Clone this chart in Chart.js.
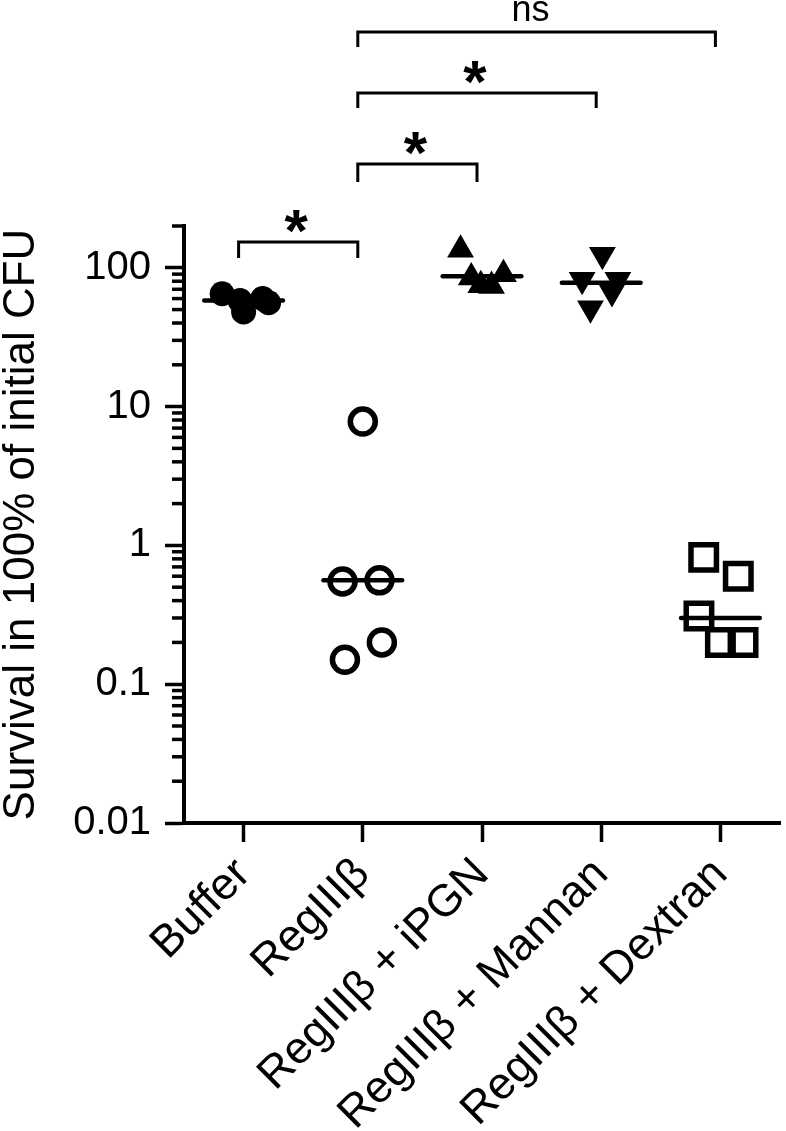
<!DOCTYPE html>
<html><head><meta charset="utf-8">
<script src="https://cdn.jsdelivr.net/npm/chart.js@4.4.0/dist/chart.umd.min.js"></script>
<style>html,body{margin:0;padding:0;background:#fff;overflow:hidden;}canvas{display:block;}</style>
</head><body><canvas id="c" width="786" height="1131" style="width:786px;height:1131px"></canvas>
<script>
// ---- data ----
const categories = ['Buffer', 'RegIIIβ', 'RegIIIβ + iPGN', 'RegIIIβ + Mannan', 'RegIIIβ + Dextran'];
const bufferValues  = [65, 58, 48, 60, 56];
const regValues     = [7.8, 0.55, 0.56, 0.15, 0.2];
const ipgnValues    = [135, 85, 90, 75, 74];
const mannanValues  = [124, 82, 82, 67, 51];
const dextranValues = [0.82, 0.6, 0.31, 0.2, 0.2];
const medianValues  = [58, 0.56, 87, 78, 0.30];
const yTickLabels   = [0.01, 0.1, 1, 10, 100];
const comparisons   = [[0, 1, '*'], [1, 2, '*'], [1, 3, '*'], [1, 4, 'ns']];
const yTitle = 'Survival in 100% of initial CFU';

// ---- presentation ----
const jitter = [
  [-0.18, -0.03, 0.00, 0.16, 0.21],
  [0.00, -0.17, 0.14, -0.15, 0.16],
  [-0.18, -0.09, 0.18, -0.01, 0.08],
  [0.01, -0.16, 0.14, 0.09, -0.09],
  [-0.14, 0.15, -0.18, 0.00, 0.19]
];
const bracketY = [242, 164, 93, 32];
const bracketDrop = [16, 18, 15, 15];
const FONT = "'Liberation Sans', Arial, Helvetica, sans-serif";
Chart.defaults.font.family = FONT;
Chart.defaults.color = '#000';

const groupValues = [bufferValues, regValues, ipgnValues, mannanValues, dextranValues];
const styles = [
  {pointStyle: 'circle', radius: 12.5, fill: true, bw: 0, rot: 0},
  {pointStyle: 'circle', radius: 12.5, fill: false, bw: 5.5, rot: 0},
  {pointStyle: 'triangle', radius: 15.5, fill: true, bw: 0, rot: 0},
  {pointStyle: 'triangle', radius: 15.5, fill: true, bw: 0, rot: 180},
  {pointStyle: 'rect', radius: 18, fill: false, bw: 5.5, rot: 0}
];

const isMajor = v => Math.abs(Math.log10(v) - Math.round(Math.log10(v))) < 1e-9;

const datasets = [];
medianValues.forEach((m, i) => {
  datasets.push({
    type: 'line', showLine: true, data: [{x: i - 0.33, y: m}, {x: i + 0.33, y: m}],
    borderColor: '#000', borderWidth: 4.5, borderCapStyle: 'round', pointRadius: 0, fill: false
  });
});
groupValues.forEach((vals, g) => {
  const s = styles[g];
  datasets.push({
    type: 'scatter',
    data: vals.map((v, k) => ({x: g + jitter[g][k], y: v})),
    pointStyle: s.pointStyle, pointRadius: s.radius, pointRotation: s.rot,
    pointBackgroundColor: s.fill ? '#000' : 'rgba(0,0,0,0)',
    pointBorderColor: '#000', pointBorderWidth: s.bw,
    pointHoverRadius: s.radius
  });
});

const yTickValues = [];
for (let e = -2; e <= 2; e++) {
  for (let k = 1; k <= 9; k++) {
    const v = Number((k * Math.pow(10, e)).toPrecision(3));
    if (v <= 200) yTickValues.push(v);
  }
}

const annot = {
  id: 'annot',
  afterDraw(chart) {
    const ctx = chart.ctx, xs = chart.scales.x, ys = chart.scales.y;
    ctx.save();
    ctx.strokeStyle = '#000'; ctx.fillStyle = '#000'; ctx.lineWidth = 3.5; ctx.lineCap = 'butt';
    ys.ticks.forEach(t => {
      if (!isMajor(t.value)) {
        const py = ys.getPixelForValue(t.value);
        ctx.beginPath(); ctx.moveTo(ys.right - 12, py); ctx.lineTo(ys.right, py); ctx.stroke();
      }
    });
    ctx.lineWidth = 3;
    comparisons.forEach((c, i) => {
      const x1 = xs.getPixelForValue(c[0]) - 5, x2 = xs.getPixelForValue(c[1]) - 5;
      const yb = bracketY[i], d = bracketDrop[i];
      ctx.beginPath();
      ctx.moveTo(x1, yb + d); ctx.lineTo(x1, yb); ctx.lineTo(x2, yb); ctx.lineTo(x2, yb + d);
      ctx.stroke();
      const mid = (x1 + x2) / 2 - 2;
      ctx.textAlign = 'center'; ctx.textBaseline = 'alphabetic';
      if (c[2] === 'ns') {
        ctx.font = '36px ' + FONT;
        ctx.fillText('ns', mid - 4, 21);
      } else {
        ctx.font = 'bold 60px ' + FONT;
        const m = ctx.measureText('*');
        const cy = yb - 21;
        ctx.fillText('*', mid, cy + (m.actualBoundingBoxAscent - m.actualBoundingBoxDescent) / 2);
      }
    });
    ctx.restore();
  }
};

new Chart(document.getElementById('c'), {
  type: 'scatter',
  data: {datasets},
  plugins: [annot],
  options: {
    responsive: false, animation: false, devicePixelRatio: 1,
    layout: {autoPadding: false, padding: {top: 226, right: 6, left: 0, bottom: 0}},
    plugins: {legend: {display: false}, tooltip: {enabled: false}},
    scales: {
      x: {
        type: 'linear', min: -0.5, max: 4.5,
        afterBuildTicks: s => { s.ticks = categories.map((_, i) => ({value: i})); },
        afterFit: s => { s.height = 308; s.paddingLeft = 0; s.paddingRight = 0; },
        ticks: {autoSkip: false, minRotation: 45, maxRotation: 45, padding: 6, color: '#000',
                font: {size: 45}, callback: v => categories[v] ?? ''},
        grid: {drawOnChartArea: false, drawTicks: true, tickLength: 19, tickWidth: 3.5, tickColor: '#000'},
        border: {display: true, color: '#000', width: 4}
      },
      y: {
        type: 'logarithmic', min: 0.01, max: 200,
        afterBuildTicks: s => { s.ticks = yTickValues.map(v => ({value: v, major: isMajor(v)})); },
        afterFit: s => { s.width = 184; },
        ticks: {autoSkip: false, padding: 14, color: '#000', font: {size: 40},
                callback: v => (yTickLabels.some(t => Math.abs(t - v) / t < 1e-6) ? String(v) : '')},
        grid: {drawOnChartArea: false, drawTicks: true, tickLength: 19, tickWidth: 3.5,
               tickColor: ctx => (ctx.tick && isMajor(ctx.tick.value)) ? '#000' : 'rgba(0,0,0,0)'},
        border: {display: true, color: '#000', width: 4},
        title: {display: true, text: yTitle, color: '#000', font: {size: 44, lineHeight: 1}, padding: {top: 0, bottom: 0}}
      }
    }
  }
});
</script></body></html>
